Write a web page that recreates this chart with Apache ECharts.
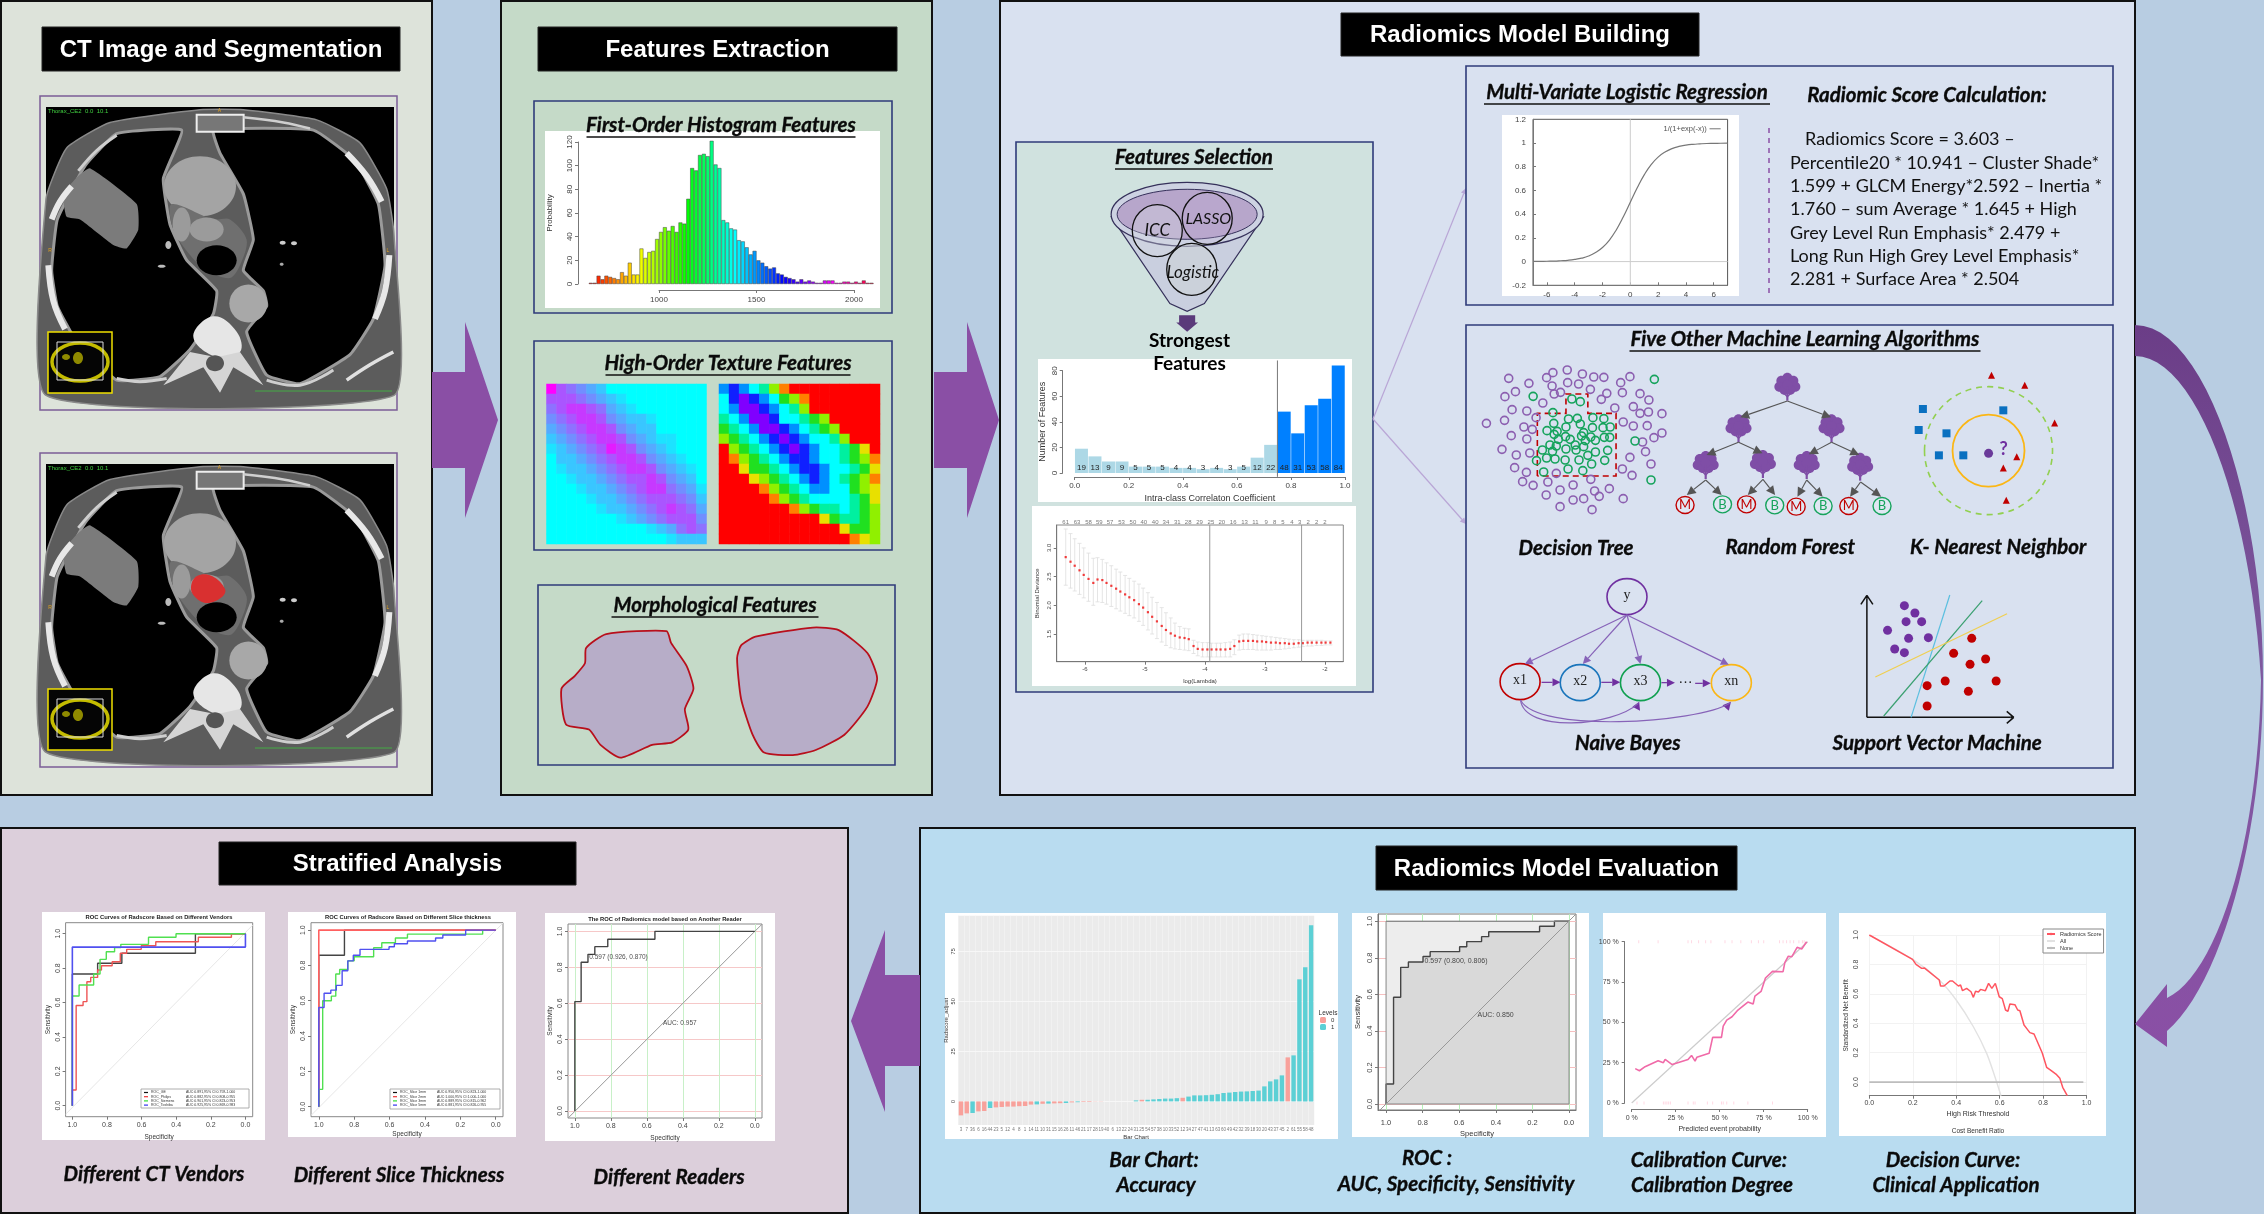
<!DOCTYPE html>
<html>
<head>
<meta charset="utf-8">
<style>html,body{margin:0;padding:0;background:#b8cde2}#main{width:2264px;height:1214px}</style>
<script src="https://cdn.jsdelivr.net/npm/echarts@6/dist/echarts.min.js"></script>
</head>
<body>
<div id="main"></div>
<script>
// ---- data ----
var histStart = 640, histStep = 20;
var histCounts = [1,1,7,4,7,6,5,4,10,7,18,8,8,30,22,27,28,38,44,48,45,49,44,52,51,72,98,96,109,110,108,121,101,98,54,52,47,46,37,36,31,25,28,20,18,15,13,14,9,8,6,5,4,2,4,2,3,2,1,1,3,3,3,1,1,2,2,1,2,1,3,1,1];

var heatCool = [
 [9,6,5,4,3,2,0,0,0,0,0,0,0,0,0,0],
 [6,6,6,5,4,3,2,1,0,0,0,0,0,0,0,0],
 [5,6,7,7,6,5,3,2,1,0,0,0,0,0,0,0],
 [4,5,6,7,7,6,4,3,2,2,1,0,0,0,0,0],
 [3,4,5,6,7,7,6,4,3,2,2,0,0,0,0,0],
 [2,3,4,5,6,7,7,6,4,3,2,1,1,0,0,0],
 [1,2,3,4,5,6,8,7,6,4,3,2,1,0,0,0],
 [0,2,2,3,4,5,6,7,7,6,4,3,2,1,0,0],
 [0,1,2,2,3,4,5,6,7,7,6,4,3,2,1,0],
 [0,0,1,2,2,3,4,5,6,6,7,6,4,3,2,0],
 [0,0,0,1,2,2,3,4,5,6,7,7,5,4,3,1],
 [0,0,0,0,1,2,2,3,4,5,6,6,6,5,4,2],
 [0,0,0,0,0,1,2,2,3,4,5,6,7,6,5,3],
 [0,0,0,0,0,0,0,1,2,3,4,5,6,6,6,4],
 [0,0,0,0,0,0,0,0,0,0,1,2,3,5,6,5],
 [0,0,0,0,0,0,0,0,0,0,0,0,1,2,2,2]
];
var heatJet = [
 [7,8,7,6,5,3,1,0,0,0,0,0,0,0,0,0],
 [6,8,9,8,7,6,4,3,1,0,0,0,0,0,0,0],
 [6,7,9,9,8,7,6,5,3,0,0,0,0,0,0,0],
 [5,6,7,9,9,8,6,6,5,4,3,0,0,0,0,0],
 [4,5,6,7,9,9,8,7,6,5,4,3,0,0,0,0],
 [3,4,5,6,7,8,9,8,7,6,6,5,3,0,0,0],
 [0,3,4,5,6,7,8,9,8,7,6,6,5,4,2,0],
 [0,1,3,4,5,6,7,8,8,7,6,6,5,4,3,1],
 [0,0,2,4,4,5,6,7,8,8,7,6,6,5,4,2],
 [0,0,0,2,3,4,5,6,7,8,7,6,5,4,3,1],
 [0,0,0,0,1,3,4,5,6,7,7,6,6,4,3,2],
 [0,0,0,0,0,1,3,4,5,6,6,6,6,5,4,2],
 [0,0,0,0,0,0,0,1,3,4,5,5,6,5,4,3],
 [0,0,0,0,0,0,0,0,0,0,2,4,5,5,4,3],
 [0,0,0,0,0,0,0,0,0,0,0,0,2,4,4,3],
 [0,0,0,0,0,0,0,0,0,0,0,0,0,1,2,3]
];

var iccBins = [0.025,0.075,0.125,0.175,0.225,0.275,0.325,0.375,0.425,0.475,0.525,0.575,0.625,0.675,0.725,0.775,0.825,0.875,0.925,0.975];
var iccCounts = [19,13,9,9,5,5,5,4,4,3,4,3,5,12,22,48,31,53,58,84];

var lassoX = [-6.32,-6.24,-6.17,-6.09,-6.02,-5.94,-5.86,-5.79,-5.71,-5.64,-5.56,-5.48,-5.41,-5.33,-5.26,-5.18,-5.10,-5.03,-4.95,-4.88,-4.80,-4.72,-4.65,-4.57,-4.50,-4.42,-4.34,-4.27,-4.19,-4.12,-4.04,-3.96,-3.89,-3.81,-3.74,-3.66,-3.58,-3.51,-3.43,-3.36,-3.28,-3.20,-3.13,-3.05,-2.98,-2.90,-2.82,-2.75,-2.67,-2.60,-2.52,-2.44,-2.37,-2.29,-2.22,-2.14,-2.06,-1.99,-1.91];
var lassoMean = [2.84,2.76,2.69,2.61,2.53,2.46,2.39,2.45,2.44,2.39,2.34,2.29,2.24,2.19,2.14,2.09,2.02,1.96,1.88,1.80,1.72,1.64,1.57,1.51,1.47,1.44,1.43,1.41,1.29,1.24,1.23,1.23,1.23,1.23,1.23,1.23,1.24,1.29,1.37,1.38,1.38,1.38,1.37,1.37,1.36,1.35,1.35,1.34,1.34,1.33,1.33,1.34,1.34,1.35,1.35,1.35,1.35,1.35,1.35];
var lassoHi = [3.33,3.25,3.16,3.08,3.00,2.91,2.82,2.83,2.80,2.74,2.69,2.63,2.58,2.52,2.47,2.42,2.37,2.30,2.22,2.14,2.05,1.96,1.87,1.78,1.69,1.63,1.60,1.59,1.39,1.36,1.35,1.35,1.34,1.34,1.34,1.35,1.36,1.40,1.48,1.50,1.50,1.49,1.48,1.47,1.46,1.45,1.44,1.43,1.42,1.41,1.40,1.40,1.39,1.39,1.39,1.39,1.39,1.38,1.38];
var lassoLo = [2.35,2.30,2.25,2.19,2.13,2.07,2.00,2.06,2.05,2.02,1.98,1.94,1.90,1.86,1.82,1.78,1.72,1.65,1.57,1.50,1.42,1.36,1.30,1.26,1.24,1.23,1.22,1.21,1.16,1.12,1.10,1.10,1.10,1.10,1.10,1.10,1.10,1.14,1.22,1.23,1.23,1.23,1.22,1.22,1.22,1.22,1.23,1.23,1.24,1.25,1.26,1.27,1.28,1.29,1.29,1.30,1.30,1.31,1.31];
var lassoTopX = [-6.32,-6.13,-5.94,-5.76,-5.58,-5.39,-5.20,-5.02,-4.83,-4.65,-4.46,-4.28,-4.09,-3.90,-3.72,-3.53,-3.34,-3.16,-2.98,-2.84,-2.70,-2.55,-2.42,-2.28,-2.14,-2.00];
var lassoTopN = [61,63,58,59,57,53,50,40,40,34,31,28,29,25,20,16,13,11,9,8,5,4,3,2,2,2];

var logisticX = [-7,-6.5,-6,-5.5,-5,-4.5,-4,-3.5,-3,-2.5,-2,-1.5,-1,-0.5,0,0.5,1,1.5,2,2.5,3,3.5,4,4.5,5,5.5,6,6.5,7];
var logisticY = [0.001,0.002,0.003,0.004,0.007,0.011,0.018,0.029,0.047,0.076,0.119,0.182,0.269,0.378,0.5,0.622,0.731,0.818,0.881,0.924,0.953,0.971,0.982,0.989,0.993,0.996,0.997,0.998,0.999];

var barIds = ['3','7','36','6','16','44','23','5','12','4','8','1','14','11','10','31','15','16','26','11','46','21','17','28','19','40','6','13','22','24','31','25','54','57','38','10','33','52','12','34','27','47','41','13','63','60','49','42','32','39','18','30','20','43','37','45','2','61','55','58','48'];
var barValues = [-7,-6,-5.8,-5,-4.8,-3.3,-3,-2.8,-2.6,-2.6,-2.4,-2.3,-1.6,-1.5,-1.2,-1.1,-1,-0.9,-0.8,-0.5,-0.4,-0.3,-0.3,-0.1,-0.1,0,0,0,0,0,0.5,0.8,0.8,1,1.2,1.4,1.4,1.6,1.8,2.4,3,3,3.1,3.3,3.6,4.2,4.4,4.7,4.9,5,5.2,5.4,7.5,10,11,13,22,23,61,67,88];
var barLevels = [0,0,1,0,0,1,0,0,0,0,0,0,0,1,0,1,0,0,1,0,1,0,0,0,0,0,0,0,0,0,1,0,1,1,1,1,1,1,0,1,1,1,1,1,1,1,1,1,1,1,1,1,1,1,1,1,0,1,1,1,1];

var rocSpec = [1,1,0.959,0.959,0.92,0.92,0.878,0.878,0.798,0.798,0.759,0.759,0.598,0.598,0.559,0.559,0.478,0.478,0.439,0.439,0.161,0.161,0.08,0.08,0];
var rocSens = [0,0.109,0.109,0.584,0.584,0.748,0.748,0.777,0.777,0.807,0.807,0.834,0.834,0.861,0.861,0.889,0.889,0.916,0.916,0.943,0.943,0.973,0.973,1,1];

var calibX = [2,4.4,7.6,15,18,19,23,32,34,36,37,44,46,51,52,54,57,60,66,69,70,73.5,76,80,86,87,89,91,94,96.6,99.4];
var calibY = [21.3,20,22.5,26.2,25,27,23.8,27,29.5,26,28.3,30.8,40.7,40.7,47.7,51.4,53.5,57.2,62.6,61.4,66.3,69.2,77.5,81.6,81.4,87,91,90.7,96.5,95.5,100];
var rugTop = [4,15,32,34,38,42,45,53,57,62,68,72,75,84,86,88,90,92,95,97,98];
var rugBottom = [3,7,18,19,20,21,22,32,35,36,43,46,51,52,54,58,66,80];

var dcaX = [0,0.199,0.215,0.241,0.253,0.322,0.328,0.344,0.371,0.383,0.41,0.42,0.429,0.448,0.468,0.479,0.489,0.502,0.512,0.534,0.549,0.564,0.58,0.598,0.612,0.627,0.638,0.647,0.67,0.683,0.693,0.712,0.724,0.739,0.758,0.796,0.816,0.831,0.862,0.877,0.89,0.911];
var dcaY = [1,0.834,0.8,0.773,0.776,0.694,0.653,0.653,0.687,0.687,0.653,0.66,0.621,0.637,0.614,0.576,0.617,0.612,0.63,0.621,0.671,0.637,0.671,0.58,0.567,0.49,0.481,0.531,0.526,0.49,0.485,0.388,0.365,0.336,0.327,0.197,0.1,0.084,0.05,0.025,-0.036,-0.093];
var dcaAll = [[0,1],[0.2,0.834],[0.322,0.694],[0.4,0.558],[0.479,0.376],[0.54,0.195],[0.578,0.036],[0.606,-0.093]];

var vendorGE = [[1,0],[1,0.766],[0.854,0.766],[0.854,0.828],[0.714,0.828],[0.714,0.886],[0.289,0.886],[0.289,1],[0,1]];
var vendorPhilips = [[1,0],[1,0.091],[0.978,0.091],[0.978,0.583],[0.938,0.583],[0.938,0.605],[0.916,0.605],[0.916,0.721],[0.894,0.721],[0.894,0.746],[0.854,0.746],[0.854,0.789],[0.832,0.789],[0.832,0.814],[0.77,0.814],[0.77,0.837],[0.723,0.837],[0.723,0.886],[0.686,0.886],[0.686,0.909],[0.602,0.909],[0.602,0.93],[0.518,0.93],[0.518,0.953],[0.272,0.953],[0.272,0.979],[0.081,0.979],[0.081,1],[0,1]];
var vendorSiemens = [[1,0],[1,0.638],[0.961,0.638],[0.961,0.702],[0.877,0.702],[0.877,0.766],[0.84,0.766],[0.84,0.851],[0.804,0.851],[0.804,0.895],[0.756,0.895],[0.756,0.919],[0.72,0.919],[0.72,0.938],[0.56,0.938],[0.56,0.979],[0.401,0.979],[0.401,1],[0,1]];
var vendorToshiba = [[1,0],[1,0.922],[0,0.922],[0,1]];

var slice1 = [[1,0],[1,0.858],[0.855,0.858],[0.855,1],[0,1]];
var slice2 = [[1,0],[1,1],[0,1]];
var slice3 = [[1,0],[1,0.098],[0.978,0.098],[0.978,0.6],[0.929,0.6],[0.929,0.626],[0.904,0.626],[0.904,0.751],[0.882,0.751],[0.882,0.777],[0.836,0.777],[0.836,0.826],[0.8,0.826],[0.8,0.849],[0.69,0.849],[0.69,0.9],[0.644,0.9],[0.644,0.928],[0.567,0.928],[0.567,0.955],[0.499,0.955],[0.499,0.977],[0.074,0.977],[0.074,1]];
var slice5 = [[1,0],[1,0.562],[0.97,0.562],[0.97,0.642],[0.932,0.642],[0.932,0.66],[0.901,0.66],[0.901,0.687],[0.868,0.687],[0.868,0.77],[0.836,0.77],[0.836,0.826],[0.805,0.826],[0.805,0.858],[0.767,0.858],[0.767,0.891],[0.603,0.891],[0.603,0.906],[0.573,0.906],[0.573,0.923],[0.499,0.923],[0.499,0.938],[0.34,0.938],[0.34,0.955],[0.299,0.955],[0.299,0.972],[0.17,0.972],[0.17,1],[0,1]];
var readerRoc = [[1,0],[1,0.609],[0.965,0.609],[0.965,0.828],[0.927,0.828],[0.927,0.872],[0.889,0.872],[0.889,0.915],[0.817,0.915],[0.817,0.956],[0.555,0.956],[0.555,1],[0,1]];

// schematic point clouds, in the units of the schematic grid
var treePurple = [[92,175],[140,190],[182,173],[197,158],[231,150],[267,162],[294,171],[318,172],[380,170],[358,188],[195,198],[232,188],[258,192],[286,208],[108,215],[83,230],[200,222],[215,217],[325,220],[362,218],[404,221],[425,240],[173,249],[312,238],[100,269],[135,273],[344,264],[388,260],[404,280],[424,276],[456,281],[157,293],[82,301],[39,310],[128,321],[148,328],[364,306],[388,318],[421,317],[98,347],[135,357],[437,353],[456,339],[410,366],[76,388],[142,399],[110,405],[417,395],[380,412],[106,443],[134,457],[430,432],[362,447],[385,466],[205,460],[125,485],[150,496],[185,486],[245,495],[287,478],[214,510],[296,513],[331,506],[181,525],[307,529],[245,540],[270,536],[364,536],[214,560],[290,569]];
var treeGreen = [[438,178],[150,229],[242,237],[262,245],[197,278],[292,293],[318,296],[234,297],[255,295],[199,310],[183,332],[262,312],[228,321],[207,334],[291,323],[316,323],[333,321],[270,338],[200,343],[210,358],[227,350],[238,358],[265,348],[287,351],[319,352],[332,352],[298,361],[274,362],[392,363],[250,375],[190,375],[205,378],[172,390],[196,394],[228,387],[270,380],[252,390],[298,396],[327,391],[280,406],[158,422],[182,414],[202,417],[226,420],[259,420],[320,421],[289,432],[233,447],[268,452],[175,456],[430,480]];
var knnSquares = [[1076,267],[1267,271],[1066,330],[1132,340],[1114,406],[1172,406]];
var knnTriangles = [[1239,166],[1318,196],[1389,309],[1299,410],[1267,444],[1274,541]];
var knnQuery = [[1232,400]];
var svmPurple = [[1032,857],[1057,879],[1036,905],[1073,905],[992,931],[1042,955],[1089,953],[1009,987],[1032,998]];
var svmRed = [[1192,955],[1149,1000],[1225,1017],[1188,1033],[1129,1083],[1086,1097],[1250,1083],[1184,1114],[1086,1158]];

// ---- option pieces ----
var grids = [], xAxes = [], yAxes = [], series = [], visualMaps = [], G = [];
var SANS = 'Liberation Sans', CAP = 'Lato', CAPSIZE = 20.5;

function addGrid(r, xa, ya, box) {
    var i = grids.length;
    grids.push({ left: r[0], top: r[1], width: r[2], height: r[3], show: !!box, borderColor: box || '#888', borderWidth: 1, backgroundColor: 'transparent' });
    var base = {
        type: 'value', gridIndex: i, nameLocation: 'middle',
        axisLine: { onZero: false, lineStyle: { color: '#777', width: 1 } },
        axisTick: { length: 3, lineStyle: { color: '#777' } },
        axisLabel: { fontSize: 8, color: '#444', fontFamily: SANS, margin: 4, hideOverlap: false, showMinLabel: true, showMaxLabel: true },
        splitLine: { show: false },
        nameTextStyle: { fontSize: 8, color: '#333', fontFamily: SANS }
    };
    xAxes.push(echarts.util.merge(echarts.util.clone(base), xa || {}, true));
    yAxes.push(echarts.util.merge(echarts.util.clone(base), ya || {}, true));
    return i;
}
function fmt1(v) { return v.toFixed(1); }
function plain(v) { return String(v); }
function ticks(vals, extra) {
    var o = { axisTick: { customValues: vals }, axisLabel: { customValues: vals } };
    return echarts.util.merge(o, extra || {}, true);
}
function line(i, name, data, color, width, extra) {
    var s = { type: 'line', name: name, xAxisIndex: i, yAxisIndex: i, data: data, symbol: 'none', animation: false, silent: true, lineStyle: { color: color, width: width }, itemStyle: { color: color } };
    series.push(echarts.util.merge(s, extra || {}, true));
}
function note(i, x, y, text, align, size) {
    series.push({
        type: 'scatter', z: 10, xAxisIndex: i, yAxisIndex: i, data: [[x, y]], symbolSize: 1, itemStyle: { color: 'rgba(0,0,0,0)' }, animation: false, silent: true, clip: false,
        label: { show: true, position: 'inside', align: align || 'left', formatter: text, fontSize: size || 7, color: '#222', fontFamily: SANS }
    });
}
function rect(x, y, w, h, fill, stroke, lw, z) {
    G.push({ type: 'rect', silent: true, z: z === undefined ? -10 : z, shape: { x: x, y: y, width: w, height: h }, style: { fill: fill, stroke: stroke || 'transparent', lineWidth: lw || 0 } });
}
function poly(pts, fill, stroke, lw, smooth, z) {
    G.push({ type: 'polygon', silent: true, z: z === undefined ? -10 : z, shape: { points: pts, smooth: smooth || 0 }, style: { fill: fill, stroke: stroke || 'transparent', lineWidth: lw || 0 } });
}
function ell(cx, cy, rx, ry, fill, stroke, lw, dash, z) {
    G.push({ type: 'ellipse', silent: true, z: z === undefined ? -10 : z, shape: { cx: cx, cy: cy, rx: rx, ry: ry }, style: { fill: fill, stroke: stroke || 'transparent', lineWidth: lw || 0, lineDash: dash || null } });
}
function seg(x1, y1, x2, y2, color, lw, dash, z) {
    G.push({ type: 'line', silent: true, z: z === undefined ? -10 : z, shape: { x1: x1, y1: y1, x2: x2, y2: y2 }, style: { stroke: color, lineWidth: lw || 1, lineDash: dash || null } });
}
function txt(s, x, y, font, fill, align, z, stroke) {
    G.push({ type: 'text', silent: true, z: z === undefined ? 50 : z, x: x, y: y, style: { text: s, x: 0, y: 0, font: font, fill: fill || '#000', textAlign: align || 'center', textVerticalAlign: 'middle', align: align || 'center', verticalAlign: 'middle', stroke: stroke || null, lineWidth: stroke ? 0.35 : 0 } });
}
function capText(s, x, y) { txt(s, x, y, 'italic bold ' + CAPSIZE + 'px ' + CAP, '#0a0a0a', 'center', 50, '#0a0a0a'); }
function heading(s, cx, cy, w) {
    capText(s, cx, cy);
    seg(cx - w / 2, cy + 12, cx + w / 2, cy + 12, '#111', 1.4, null, 50);
}
function titleBar(s, x, y, w, h) {
    rect(x, y, w, h, '#000', '#222', 1, -9);
    txt(s, x + w / 2, y + h / 2 + 1, 'bold 24px ' + SANS, '#fff');
}
function arrow(x1, y1, x2, y2, color, lw, head, z) {
    var a = Math.atan2(y2 - y1, x2 - x1), hx = x2 - head * Math.cos(a), hy = y2 - head * Math.sin(a), n = head * 0.5;
    seg(x1, y1, hx, hy, color, lw, null, z);
    poly([[x2, y2], [hx - n * Math.sin(a), hy + n * Math.cos(a)], [hx + n * Math.sin(a), hy - n * Math.cos(a)]], color, null, 0, 0, z);
}
function cub(p0, p1, p2, p3, n) {
    var out = [];
    for (var i = 0; i <= n; i++) {
        var t = i / n, u = 1 - t;
        out.push([u*u*u*p0[0] + 3*u*u*t*p1[0] + 3*u*t*t*p2[0] + t*t*t*p3[0], u*u*u*p0[1] + 3*u*u*t*p1[1] + 3*u*t*t*p2[1] + t*t*t*p3[1]]);
    }
    return out;
}
// the crops the shapes were measured on
function c1(p) { return p.map(function (q) { return [500 + q[0] / 1.742, q[1] / 1.96]; }); }
function c6x(x) { return 1470 + x / 2.376; }
function c6y(y) { return 320 + y / 3; }

// ---- panels and arrows ----
rect(0, 0, 2264, 1214, '#b8cde2');
rect(1, 1, 431, 794, '#dde3da', '#111', 2);
rect(501, 1, 431, 794, '#c5dac8', '#111', 2);
rect(1000, 1, 1135, 794, '#d9e1f0', '#111', 2);
rect(1, 828, 847, 385, '#dccfdb', '#111', 2);
rect(920, 828, 1215, 385, '#b9dcf0', '#111', 2);

var PURPLE = '#8a4fa5';
poly([[432, 372], [465, 372], [465, 322], [498, 420], [465, 518], [465, 468], [432, 468]], PURPLE);
poly([[934, 372], [967, 372], [967, 322], [999, 420], [967, 518], [967, 468], [934, 468]], PURPLE);
poly([[920, 975], [885, 975], [885, 930], [851, 1021], [885, 1112], [885, 1066], [920, 1066]], PURPLE);

var outer = cub([2135, 325], [2205, 325], [2263, 500], [2263, 678], 24).concat(cub([2263, 678], [2263, 840], [2220, 985], [2167, 1031], 24));
var inner = cub([2167, 998], [2215, 975], [2258, 850], [2261, 680], 24).concat(cub([2261, 680], [2250, 500], [2195, 356], [2135, 356], 24));
poly(outer.concat([[2167, 1047], [2135, 1024], [2167, 984]], inner), new echarts.graphic.LinearGradient(0, 0, 0, 1, [{ offset: 0, color: '#6b3d87' }, { offset: 0.5, color: '#7f5aa0' }, { offset: 1, color: PURPLE }]));

titleBar('CT Image and Segmentation', 42, 27, 358, 44);
titleBar('Features Extraction', 538, 27, 359, 44);
titleBar('Radiomics Model Building', 1341, 13, 358, 43);
titleBar('Stratified Analysis', 219, 842, 357, 43);
titleBar('Radiomics Model Evaluation', 1376, 846, 361, 44);

// ---- CT slices (plain shapes) ----
function ctSlice(dy, marked) {
    function p(list) { return list.map(function (q) { return [q[0] / 3, q[1] / 1.96 + dy]; }); }
    function rib(list, w, c) { G.push({ type: 'polyline', silent: true, z: -10, shape: { points: p(list), smooth: 0.4 }, style: { stroke: c || '#e8e8e8', lineWidth: w, fill: null } }); }
    rect(40, 96 + dy, 357, 314, '#dde3da', '#7b5e96', 1.5);
    rect(46, 107 + dy, 348, 288, '#000');
    poly(p([[138,775],[138,390],[200,290],[330,240],[600,215],[730,215],[950,235],[1080,280],[1160,370],[1182,460],[1182,775]]), '#5c5c5c', '#8a8a8a', 1.5, 0.15);
    // lungs
    poly(p([[545,255],[350,262],[255,325],[172,430],[155,530],[172,600],[230,670],[350,745],[480,738],[570,685],[640,615],[650,570],[560,510],[510,440],[490,350]]), '#000', '#9a9a9a', 3, 0.12);
    poly(p([[640,255],[940,255],[1065,315],[1135,400],[1155,520],[1120,625],[1050,695],[900,752],[800,735],[740,650],[800,600],[790,570],[730,530],[760,470],[730,380],[660,300]]), '#000', '#9a9a9a', 3, 0.12);
    // tumour, heart and vessels
    poly(p([[270,330],[410,400],[415,450],[380,487],[340,480],[240,430],[200,425],[190,380],[235,345]]), '#7b7b7b', null, 0, 0.15);
    ell(600 / 3, 365 / 1.96 + dy, 36, 30, '#a4a4a4');
    poly(p([[515,400],[640,430],[690,430],[740,470],[720,520],[690,545],[620,530],[570,500],[520,450]]), '#6f6f6f', null, 0, 0.3);
    ell(620 / 3, 450 / 1.96 + dy, 17, 12, '#9b9b9b');
    ell(545 / 3, 440 / 1.96 + dy, 9, 17, '#9b9b9b');
    ell(650 / 3, 510 / 1.96 + dy, 20, 15, '#000');
    ell(745 / 3, 595 / 1.96 + dy, 19, 19, '#a8a8a8');
    // spine, sternum and ribs
    poly(p([[580,660],[640,620],[710,650],[720,690],[650,700]]), '#e6e6e6', null, 0, 0.4);
    poly(p([[490,755],[570,690],[650,700],[720,690],[790,755],[700,720],[660,770],[610,720]]), '#d5d5d5');
    ell(645 / 3, 712 / 1.96 + dy, 9, 8, '#555');
    rect(590 / 3, 225 / 1.96 + dy, 47, 17, '#777', '#eee', 2);
    rib([[145,520],[160,590],[195,645]], 6);
    rib([[155,430],[180,395],[215,365]], 6);
    rib([[1168,500],[1155,570],[1125,625]], 6);
    rib([[1040,300],[1100,345],[1145,395]], 6);
    rib([[235,335],[290,295],[350,265]], 3, '#cfcfcf');
    rib([[730,230],[850,240],[930,252]], 2.5, '#cfcfcf');
    rib([[350,742],[420,748],[500,742]], 3, '#cfcfcf');
    rib([[800,745],[900,755],[1000,725]], 3, '#cfcfcf');
    rib([[1040,745],[1110,715],[1180,690]], 3.5, '#e0e0e0');
    ell(848 / 3, 476 / 1.96 + dy, 3, 2, '#ccc'); ell(882 / 3, 477 / 1.96 + dy, 3, 2, '#ccc'); ell(505 / 3, 480 / 1.96 + dy, 3, 4, '#bbb');
    ell(845 / 3, 518 / 1.96 + dy, 2, 1.5, '#aaa'); ell(485 / 3, 522 / 1.96 + dy, 4, 1.5, '#bbb');
    if (marked) poly([[191, 587], [197, 576], [212, 576], [225, 589], [222, 597], [207, 603], [195, 597]], '#d93030', null, 0, 0.4);
    // scout inset
    rect(48, 332 + dy, 64, 61, '#050505', '#f0e000', 1.5);
    ell(80, 362 + dy, 28, 19, 'rgba(0,0,0,0)', '#c4bc00', 3.5);
    ell(78, 358 + dy, 5, 6, '#8f8a00');
    ell(66, 357 + dy, 4, 3, '#8f8a00');
    rect(57, 342 + dy, 46, 38, 'rgba(0,0,0,0)', '#ddd', 1);
    txt('Thorax_CE2  0.0  10.1', 48, 111 + dy, '6px ' + SANS, '#40d040', 'left', -5);
    txt('A', 219.5, 111 + dy, '5px ' + SANS, '#e0a020', 'center', -5);
    txt('R', 50, 251 + dy, '5px ' + SANS, '#e0a020', 'center', -5);
    txt('L', 388, 251 + dy, '5px ' + SANS, '#e0a020', 'center', -5);
    seg(255, 391 + dy, 392, 391 + dy, '#40c040', 0.8);
}
ctSlice(0, false);
ctSlice(357, true);

// ---- features extraction ----
rect(534, 101, 358, 212, '#c5dac8', '#2f3b7a', 1.6);
rect(545, 131, 335, 177, '#fff');
heading('First-Order Histogram Features', 721, 125, 269);

function rainbow(i, n) {
    var h = i / n * 5.9, f = h - Math.floor(h), q = 1 - f, c = [[1, f, 0], [q, 1, 0], [0, 1, f], [0, q, 1], [f, 0, 1], [1, 0, q]][Math.floor(h) % 6];
    return 'rgb(' + c.map(function (v) { return Math.round(v * 255); }).join(',') + ')';
}
var gHist = addGrid([659, 142, 195, 142],
    { min: 1000, max: 2000, interval: 500, offset: 6, axisLabel: { margin: 6, formatter: plain } },
    { min: 0, max: 120, interval: 20, offset: 81, name: 'Probability', nameGap: 24, axisLabel: { rotate: 90 } });
series.push({
    type: 'bar', xAxisIndex: gHist, yAxisIndex: gHist, clip: false, barWidth: 3.9, animation: false, silent: true,
    data: histCounts.map(function (v, i) { return { value: [histStart + histStep * i + histStep / 2, v], itemStyle: { color: rainbow(i, histCounts.length) } }; }),
    itemStyle: { borderColor: '#444', borderWidth: 0.5 }
});

rect(534, 341, 358, 209, '#c5dac8', '#2f3b7a', 1.6);
heading('High-Order Texture Features', 728, 363, 245);
function heatSeries(r, rows, colors) {
    var idx16 = rows[0].map(function (v, i) { return i; });
    var rowIdx = rows.map(function (v, i) { return i; });
    var g = addGrid(r, { type: 'category', data: idx16, show: false }, { type: 'category', data: rowIdx, inverse: true, show: false });
    var data = [];
    rows.forEach(function (row, y) { row.forEach(function (v, x) { data.push([x, y, v]); }); });
    visualMaps.push({ show: false, min: 0, max: 9, seriesIndex: series.length, inRange: { color: colors } });
    series.push({ type: 'heatmap', xAxisIndex: g, yAxisIndex: g, data: data, animation: false, silent: true, progressive: 0 });
}
heatSeries([546.5, 384, 160, 160], heatCool, ['#00ffff', '#ff00ff']);
heatSeries([719, 384, 161, 160], heatJet, ['#ff0000', '#ff8000', '#e8e000', '#90f000', '#20e020', '#00f0a0', '#00ffff', '#0090ff', '#1020ff', '#8000ff']);

rect(538, 585, 357, 180, '#c5dac8', '#2f3b7a', 1.6);
heading('Morphological Features', 715, 605, 207);
poly(c1([[185,1243],[290,1237],[298,1260],[325,1305],[337,1350],[322,1390],[328,1430],[300,1455],[265,1460],[210,1485],[175,1460],[155,1430],[115,1420],[107,1350],[130,1325],[148,1300],[150,1270]]), '#b7adc8', '#b80f1c', 1.8, 0.2);
poly(c1([[445,1248],[545,1230],[590,1235],[640,1280],[657,1330],[640,1385],[600,1440],[550,1470],[510,1480],[460,1475],[440,1440],[420,1370],[413,1290],[420,1265]]), '#b7adc8', '#b80f1c', 1.8, 0.2);

// ---- features selection ----
rect(1016, 142, 357, 550, '#d0e2df', '#2f3b7a', 1.6);
heading('Features Selection', 1194, 157, 158);
poly(c1([[1065,425],[1167,595],[1197,610],[1227,595],[1330,425]]), '#c9cfdf', '#35305a', 1.2);
ell(500 + 1197 / 1.742, 420 / 1.96, 76, 32, '#cdd2e2', '#35305a', 1.2);
ell(500 + 1197 / 1.742, 420 / 1.96, 70, 25, '#b7a6cb', '#35305a', 1);
ell(500 + 1145 / 1.742, 452 / 1.96, 25, 26, 'rgba(215,218,225,0.35)', '#111', 1.3);
ell(500 + 1232 / 1.742, 428 / 1.96, 25, 26, 'rgba(190,170,210,0.25)', '#111', 1.3);
ell(500 + 1205 / 1.742, 528 / 1.96, 25, 26, 'rgba(205,210,215,0.6)', '#111', 1.3);
txt('ICC', 500 + 1145 / 1.742, 452 / 1.96, 'italic 17px ' + CAP, '#111');
txt('LASSO', 500 + 1234 / 1.742, 429 / 1.96, 'italic 16px ' + CAP, '#111');
txt('Logistic', 500 + 1207 / 1.742, 534 / 1.96, 'italic 17px ' + CAP, '#111');
poly(c1([[1183,618],[1211,618],[1211,632],[1216,632],[1197,650],[1178,632],[1183,632]]), '#5a3a7a');
txt('Strongest', 1189.5, 341, 'bold 19px ' + CAP, '#000');
txt('Features', 1189.5, 364, 'bold 19px ' + CAP, '#000');

rect(1038, 359, 314, 143, '#fff');
var gIcc = addGrid([1074.7, 370.7, 270.3, 102.3],
    { min: 0, max: 1, interval: 0.2, offset: 4, name: 'Intra-class Correlaton Coefficient', nameGap: 17, axisLabel: { formatter: fmt1, margin: 5 }, nameTextStyle: { fontSize: 9 } },
    { min: 0, max: 80, interval: 20, offset: 12, name: 'Number of Features', nameGap: 16, axisLabel: { rotate: 90 }, nameTextStyle: { fontSize: 9 } });
series.push({
    type: 'bar', xAxisIndex: gIcc, yAxisIndex: gIcc, clip: false, barWidth: 13, animation: false, silent: true,
    data: iccBins.map(function (b, i) { return { value: [b, iccCounts[i]], itemStyle: { color: b > 0.75 ? '#0080ff' : '#add8e6' } }; }),
    label: { show: true, position: 'insideBottom', distance: 1, fontSize: 8, color: '#222', fontFamily: SANS, formatter: function (p) { return p.value[1]; } }
});
line(gIcc, 'cut', [[0.75, -3], [0.75, 88]], '#777', 1, { clip: false });

rect(1032, 506, 324, 180, '#fff');
var gLasso = addGrid([1056.7, 525, 286.6, 136.7],
    ticks([-6, -5, -4, -3, -2], { min: -6.47, max: -1.695, name: 'log(Lambda)', nameGap: 17, axisLabel: { margin: 5, fontSize: 6 }, nameTextStyle: { fontSize: 6 } }),
    ticks([1.5, 2, 2.5, 3], { min: 1.017, max: 3.4, name: 'Binomial Deviance', nameGap: 16, axisLabel: { rotate: 90, fontSize: 6, formatter: fmt1 }, nameTextStyle: { fontSize: 6 } }), '#888');
series.push({
    type: 'custom', xAxisIndex: gLasso, yAxisIndex: gLasso, animation: false, silent: true,
    data: lassoX.map(function (x, i) { return [x, lassoLo[i], lassoHi[i]]; }),
    encode: { x: 0, y: [1, 2] },
    renderItem: function (params, api) {
        var a = api.coord([api.value(0), api.value(1)]), b = api.coord([api.value(0), api.value(2)]);
        var st = { stroke: '#dedede', lineWidth: 0.8, fill: null };
        return { type: 'group', children: [
            { type: 'line', shape: { x1: a[0], y1: a[1], x2: b[0], y2: b[1] }, style: st },
            { type: 'line', shape: { x1: a[0] - 2, y1: a[1], x2: a[0] + 2, y2: a[1] }, style: st },
            { type: 'line', shape: { x1: b[0] - 2, y1: b[1], x2: b[0] + 2, y2: b[1] }, style: st }
        ] };
    }
});
series.push({ type: 'scatter', xAxisIndex: gLasso, yAxisIndex: gLasso, data: lassoX.map(function (x, i) { return [x, lassoMean[i]]; }), symbol: 'rect', symbolSize: 2.2, itemStyle: { color: '#f01010' }, animation: false, silent: true });
line(gLasso, 'min', [[-3.92, 1.017], [-3.92, 3.4]], '#999', 1);
line(gLasso, '1se', [[-2.39, 1.017], [-2.39, 3.4]], '#999', 1);
series.push({
    type: 'scatter', xAxisIndex: gLasso, yAxisIndex: gLasso, clip: false, symbolSize: 0, animation: false, silent: true,
    data: lassoTopX.map(function (x, i) { return [x, 3.455, lassoTopN[i]]; }),
    label: { show: true, position: 'inside', fontSize: 6, color: '#555', fontFamily: SANS, formatter: function (p) { return p.value[2]; } }
});

// ---- thin connectors ----
arrow(1373, 419, 1466, 188, '#b9a6d6', 1.2, 6);
arrow(1373, 419, 1466, 524, '#b9a6d6', 1.2, 6);

// ---- logistic regression box ----
rect(1466, 66, 647, 239, '#d9e1f0', '#2f3b7a', 1.6);
heading('Multi-Variate Logistic Regression', 1627, 92, 286);
capText('Radiomic Score Calculation:', 1927, 95);
rect(1502, 115, 237, 181, '#fff');
var gLog = addGrid([1533, 119.3, 194.6, 166],
    { min: -7, max: 7, axisTick: { inside: true, customValues: [-6, -4, -2, 0, 2, 4, 6] }, axisLabel: { customValues: [-6, -4, -2, 0, 2, 4, 6], margin: 5 } },
    { min: -0.2, max: 1.2, interval: 0.2, axisTick: { inside: true }, axisLabel: { margin: 7, formatter: function (v) { return Math.round(v * 10) / 10; } } }, '#555');
line(gLog, 'x0', [[0, -0.2], [0, 1.2]], '#ccc', 1);
line(gLog, 'y0', [[-7, 0], [7, 0]], '#ccc', 1);
line(gLog, '1/(1+exp(-x))', logisticX.map(function (x, i) { return [x, logisticY[i]]; }), '#777', 1.2, { smooth: true });
note(gLog, 5.5, 1.12, '1/(1+exp(-x))', 'right', 7.5);
line(gLog, 'key', [[5.7, 1.12], [6.5, 1.12]], '#777', 1);
seg(1769, 128, 1769, 295, '#8a4fa5', 1.5, [5, 5]);
var scoreLines = ['Radiomics Score = 3.603 \u2013', 'Percentile20 * 10.941 \u2013 Cluster Shade*', '1.599 + GLCM Energy*2.592 \u2013 Inertia *', '1.760 \u2013 sum Average * 1.645 + High', 'Grey Level Run Emphasis* 2.479 +', 'Long Run High Grey Level Emphasis*', '2.281 + Surface Area * 2.504'];
[139, 163, 186, 209, 233, 256, 279].forEach(function (y, i) {
    txt(scoreLines[i], i === 0 ? 1805 : 1790, y, '18px ' + CAP, '#111', 'left');
});

// ---- five other algorithms ----
rect(1466, 325, 647, 443, '#d9e1f0', '#2f3b7a', 1.6);
heading('Five Other Machine Learning Algorithms', 1805, 339, 351);
var gS = addGrid([1470, 320, 660, 450], { min: 0, max: 1568, show: false }, { min: 0, max: 1350, inverse: true, show: false });
function dots(data, symbol, size, fill, stroke, bw) {
    series.push({ type: 'scatter', xAxisIndex: gS, yAxisIndex: gS, data: data, symbol: symbol, symbolSize: size, animation: false, silent: true, itemStyle: { color: fill, borderColor: stroke || fill, borderWidth: bw || 0, opacity: 1 } });
}
dots(treePurple, 'circle', 8, 'rgba(0,0,0,0)', '#8c5fb0', 1.6);
dots(treeGreen, 'circle', 8, 'rgba(0,0,0,0)', '#16a35c', 1.6);
dots(knnSquares, 'rect', 8, '#0a70c0');
dots(knnTriangles, 'triangle', 7, '#c00000');
dots(knnQuery, 'circle', 9, '#6a3a9a');
dots(svmPurple, 'circle', 9, '#7030a0');
dots(svmRed, 'circle', 9, '#c00000');

G.push({ type: 'polyline', silent: true, z: -5, shape: { points: [[160,468],[160,280],[228,280],[228,222],[280,222],[280,280],[347,280],[347,468],[160,468]].map(function (q) { return [c6x(q[0]), c6y(q[1])]; }) }, style: { stroke: '#c00000', lineWidth: 1.6, lineDash: [6, 4], fill: null } });

function tree(X, Y) {
    var x = c6x(X), y = c6y(Y), c = '#7f4ea6';
    [[0, -9], [-6, -6], [6, -6], [-8, 0], [8, 0], [-3, 3], [3, 3], [0, -2]].forEach(function (o) { ell(x + o[0], y + o[1], 5, 5, c); });
    seg(x, y, x, y + 14, c, 2.2);
    seg(x - 5, y + 5, x, y + 10, c, 1.3);
    seg(x + 5, y + 5, x, y + 10, c, 1.3);
}
[[754,200],[638,325],[859,325],[560,435],[696,432],[800,435],[927,440]].forEach(function (t) { tree(t[0], t[1]); });
[[[754,243],[642,292]],[[754,243],[858,292]],[[638,367],[562,405]],[[638,367],[695,400]],[[859,367],[805,403]],[[859,367],[925,405]],[[560,480],[515,525]],[[560,480],[598,525]],[[696,478],[660,525]],[[696,478],[725,525]],[[800,480],[778,530]],[[800,480],[838,530]],[[928,486],[903,530]],[[928,486],[977,530]]].forEach(function (e) {
    arrow(c6x(e[0][0]), c6y(e[0][1]), c6x(e[1][0]), c6y(e[1][1]), '#555', 1.1, 9);
});
[[511,555,'M'],[600,553,'B'],[657,553,'M'],[724,556,'B'],[775,560,'M'],[839,558,'B'],[900,558,'M'],[979,558,'B']].forEach(function (n) {
    var col = n[2] === 'M' ? '#c00000' : '#16a35c';
    ell(c6x(n[0]), c6y(n[1]), 9, 8.5, 'rgba(255,255,255,0.2)', col, 1.4);
    txt(n[2], c6x(n[0]), c6y(n[1]), '13px ' + CAP, col);
});
ell(c6x(1232), c6y(392), 36, 36, 'rgba(0,0,0,0)', '#fbb614', 1.8);
ell(c6x(1232), c6y(392), 64, 64, 'rgba(0,0,0,0)', '#92d050', 1.6, [6, 5]);
txt('?', c6x(1268), c6y(388), 'bold 18px ' + CAP, '#7030a0');

// naive bayes
var nbNodes = [[373,830,'y','#7030a0'],[119,1085,'x1','#c00000'],[262,1088,'x2','#1a75bb'],[405,1088,'x3','#10a050'],[621,1088,'xn','#fbb614']];
nbNodes.forEach(function (n) {
    ell(c6x(n[0]), c6y(n[1]), 20, 18, 'rgba(255,255,255,0.05)', n[3], 1.6);
    txt(n[2], c6x(n[0]), c6y(n[1] - 4), '14px Liberation Serif', '#222');
});
var NB = '#8763b8';
[[373,885,130,1032],[373,885,268,1032],[373,885,405,1032],[373,885,615,1034]].forEach(function (e) {
    arrow(c6x(e[0]), c6y(e[1]), c6x(e[2]), c6y(e[3]), NB, 1.2, 8);
});
[[170,1087,215,1087],[312,1087,357,1087],[455,1088,487,1088],[535,1090,572,1090]].forEach(function (e) {
    arrow(c6x(e[0]), c6y(e[1]), c6x(e[2]), c6y(e[3]), '#7030a0', 1.2, 8);
});
txt('\u2026', c6x(512), c6y(1078), '14px Liberation Serif', '#222');
G.push({ type: 'bezierCurve', silent: true, z: -5, shape: { x1: c6x(120), y1: c6y(1140), cpx1: c6x(130), cpy1: c6y(1240), cpx2: c6x(340), cpy2: c6y(1220), x2: c6x(400), y2: c6y(1150) }, style: { stroke: NB, lineWidth: 1.2, fill: null } });
G.push({ type: 'bezierCurve', silent: true, z: -5, shape: { x1: c6x(120), y1: c6y(1140), cpx1: c6x(160), cpy1: c6y(1240), cpx2: c6x(540), cpy2: c6y(1210), x2: c6x(617), y2: c6y(1150) }, style: { stroke: NB, lineWidth: 1.2, fill: null } });
poly([[c6x(402),c6y(1145)],[c6x(386),c6y(1160)],[c6x(404),c6y(1172)]], '#7030a0');
poly([[c6x(620),c6y(1145)],[c6x(600),c6y(1156)],[c6x(615),c6y(1172)]], '#7030a0');

// svm
arrow(c6x(943), c6y(1192), c6x(943), c6y(826), '#111', 1.5, 3);
arrow(c6x(943), c6y(1192), c6x(1292), c6y(1192), '#111', 1.5, 3);
[[-6, 7], [6, 7]].forEach(function (o) { seg(c6x(943), c6y(826), c6x(943) + o[0], c6y(826) + o[1] + 2, '#111', 1.5); });
[[-7, -6], [-7, 6]].forEach(function (o) { seg(c6x(1292), c6y(1192), c6x(1292) + o[0], c6y(1192) + o[1], '#111', 1.5); });
seg(c6x(1140), c6y(825), c6x(1048), c6y(1192), '#5bbfe0', 1.2);
seg(c6x(1217), c6y(842), c6x(983), c6y(1188), '#3aa070', 1.2);
seg(c6x(1276), c6y(881), c6x(963), c6y(1071), '#f0cf50', 1.2);

capText('Decision Tree', c6x(252), c6y(686));
capText('Random Forest', c6x(761), c6y(682));
capText('K- Nearest Neighbor', c6x(1255), c6y(682));
capText('Naive Bayes', c6x(375), c6y(1270));
capText('Support Vector Machine', c6x(1110), c6y(1270));

// ---- evaluation charts ----
rect(945, 913, 393, 226, '#fff');
rect(1352, 913, 237, 224, '#fff');
rect(1603, 913, 223, 224, '#fff');
rect(1839, 913, 267, 223, '#fff');

var gBar = addGrid([958, 915.7, 356, 209.3],
    { type: 'category', data: barIds, name: 'Bar Chart', nameGap: 9, axisLine: { show: false }, axisTick: { length: 1, alignWithLabel: true }, axisLabel: { interval: 0, fontSize: 4.5, margin: 2, color: '#777' }, splitLine: { show: true, lineStyle: { color: '#f6f6f6', width: 0.5 } }, nameTextStyle: { fontSize: 6 } },
    ticks([0, 25, 50, 75], { min: -11.8, max: 92.8, name: 'Radscore_adjust', nameGap: 9, axisLine: { show: false }, axisTick: { length: 1 }, splitLine: { show: true, lineStyle: { color: '#fafafa', width: 0.8 } }, axisLabel: { fontSize: 5.5, margin: 2, rotate: 90 }, nameTextStyle: { fontSize: 6 } }));
grids[gBar].show = true; grids[gBar].backgroundColor = '#ebebeb'; grids[gBar].borderWidth = 0;
[0, 1].forEach(function (lv) {
    series.push({
        type: 'bar', name: String(lv), xAxisIndex: gBar, yAxisIndex: gBar, barWidth: 4.4, barGap: '-100%', animation: false, silent: true,
        itemStyle: { color: lv ? '#5cd0d5' : '#f8a19b' },
        data: barValues.map(function (v, i) { return barLevels[i] === lv ? v : null; })
    });
});
txt('Levels', 1328, 1013, '6.5px ' + SANS, '#333');

var gRoc = addGrid([1378, 914, 198, 196],
    ticks([1, 0.8, 0.6, 0.4, 0.2, 0], { inverse: true, min: -0.038, max: 1.044, name: 'Specificity', nameGap: 20, axisLabel: { formatter: fmt1, fontSize: 7.5, margin: 9 }, splitLine: { show: true, lineStyle: { color: '#b8f0b8' } }, nameTextStyle: { fontSize: 7.5 } }),
    ticks([0, 0.2, 0.4, 0.6, 0.8, 1], { min: -0.033, max: 1.04, name: 'Sensitivity', nameGap: 16, axisLabel: { rotate: 90, formatter: fmt1, fontSize: 7.5, margin: 4 }, splitLine: { show: true, lineStyle: { color: '#f6c0c0' } }, nameTextStyle: { fontSize: 7.5 } }), '#777');
line(gRoc, 'inner', [[1, 1], [0, 1]], '#888', 1, { areaStyle: { color: '#ededed', opacity: 1 } });
line(gRoc, 'roc', rocSpec.map(function (s, i) { return [s, rocSens[i]]; }), '#444', 1.4, { areaStyle: { color: '#d9d9d9', opacity: 1 } });
line(gRoc, 'frame', [[1, 0], [1, 1], [0, 1], [0, 0], [1, 0]], '#888', 1);
line(gRoc, 'diag', [[1.04, -0.04], [-0.038, 1.04]], '#999', 1);
note(gRoc, 0.79, 0.785, '0.597 (0.800, 0.806)', 'left', 7);
note(gRoc, 0.5, 0.485, 'AUC: 0.850', 'left', 7);

var gCal = addGrid([1631.7, 941.7, 176, 161.3],
    { min: 0, max: 100, interval: 25, offset: 6, name: 'Predicted event probability', nameGap: 17, axisLabel: { formatter: '{value} %', fontSize: 7, margin: 6 }, nameTextStyle: { fontSize: 7 } },
    { min: 0, max: 100, interval: 25, offset: 7, axisLabel: { formatter: '{value} %', fontSize: 7, margin: 6 } });
line(gCal, 'ideal', [[0, 0], [100, 100]], '#ccc', 1.2);
line(gCal, 'cal', calibX.map(function (x, i) { return [x, calibY[i]]; }), '#f06aa8', 1.6);
series.push({ type: 'scatter', xAxisIndex: gCal, yAxisIndex: gCal, clip: false, symbol: 'rect', symbolSize: [1, 3], itemStyle: { color: '#ffd0dd' }, animation: false, silent: true,
    data: rugTop.map(function (x) { return [x, 100]; }).concat(rugBottom.map(function (x) { return [x, 0]; })) });

var gDca = addGrid([1869.3, 935, 217.3, 160.7],
    { min: 0, max: 1, interval: 0.2, name: 'High Risk Threshold', nameGap: 15, axisLabel: { formatter: fmt1, fontSize: 7, margin: 4 }, splitLine: { show: true, lineStyle: { color: '#f2f2f2' } }, nameTextStyle: { fontSize: 7 } },
    ticks([0, 0.2, 0.4, 0.6, 0.8, 1], { min: -0.093, max: 1, name: 'Standardized Net Benefit', nameGap: 20, axisLine: { show: false }, axisTick: { show: false }, axisLabel: { rotate: 90, formatter: fmt1, fontSize: 7, margin: 10 }, splitLine: { show: true, lineStyle: { color: '#f2f2f2' } }, nameTextStyle: { fontSize: 6.5 } }));
line(gDca, 'All', dcaAll, '#e2e2e2', 1.4, { smooth: 0.3 });
line(gDca, 'None', [[0, 0], [0.985, 0]], '#bdbdbd', 1.8);
line(gDca, 'Radiomics Score', dcaX.map(function (x, i) { return [x, dcaY[i]]; }), '#ff5560', 1.5);
txt('Cost Benefit Ratio', 1978, 1131, '6.5px ' + SANS, '#333');

capText('Bar Chart:', 1154, 1160);
capText('Accuracy', 1156, 1185);
capText('ROC :', 1427, 1158);
capText('AUC, Specificity, Sensitivity', 1456, 1184);
capText('Calibration Curve:', 1709, 1160);
capText('Calibration Degree', 1712, 1185);
capText('Decision Curve:', 1953, 1160);
capText('Clinical Application', 1956, 1185);

// ---- stratified charts ----
rect(42, 912, 223, 228, '#fff');
rect(288, 912, 228, 225, '#fff');
rect(545, 913, 230, 228, '#fff');
var rocTicks = [1, 0.8, 0.6, 0.4, 0.2, 0], senTicks = [0, 0.2, 0.4, 0.6, 0.8, 1];
function stratGrid(r, xr, yr, xGap, gridLines) {
    var spl = gridLines ? function (c) { return { show: true, lineStyle: { color: c } }; } : function () { return { show: false }; };
    return addGrid(r,
        ticks(rocTicks, { inverse: true, min: xr[0], max: xr[1], name: 'Specificity', nameGap: xGap, axisLine: { show: false }, axisLabel: { formatter: fmt1, fontSize: 7, margin: 5 }, splitLine: spl('#c8f0c8'), nameTextStyle: { fontSize: 6.5 } }),
        ticks(senTicks, { min: yr[0], max: yr[1], name: 'Sensitivity', nameGap: 14, axisLine: { show: false }, axisLabel: { rotate: 90, formatter: fmt1, fontSize: 7, margin: 4 }, splitLine: spl('#f6c8c8'), nameTextStyle: { fontSize: 6.5 } }), '#888');
}
var gV = stratGrid([65.6, 922.7, 187.1, 194], [-0.042, 1.039], [-0.064, 1.064], 17);
line(gV, 'diagV', [[1.039, -0.05], [-0.042, 1.05]], '#e6e6e6', 1);
line(gV, 'ROC_GE', vendorGE, '#444', 1.4);
line(gV, 'ROC_Philips', vendorPhilips, '#ee5555', 1.4);
line(gV, 'ROC_Siemens', vendorSiemens, '#50e050', 1.4);
line(gV, 'ROC_Toshiba', vendorToshiba, '#5050f0', 1.6);
txt('ROC Curves of Radscore Based on Different Vendors', 159, 917, 'bold 5.8px ' + SANS, '#222');

var gT = stratGrid([311, 922.7, 192, 194], [-0.041, 1.044], [-0.057, 1.042], 14);
line(gT, 'diagT', [[1.044, -0.05], [-0.041, 1.04]], '#e6e6e6', 1);
line(gT, 'ROC_Slice 1mm', slice1, '#444', 1.4);
line(gT, 'ROC_Slice 2mm', slice2, '#ff6060', 1.6);
line(gT, 'ROC_Slice 3mm', slice3, '#50e050', 1.4);
line(gT, 'ROC_Slice 5mm', slice5, '#5050f0', 1.4);
txt('ROC Curves of Radscore Based on Different Slice thickness', 408, 917, 'bold 5.8px ' + SANS, '#222');

var gR = stratGrid([568, 924, 194, 194], [-0.04, 1.038], [-0.039, 1.041], 17, true);
line(gR, 'diagR', [[1.038, -0.04], [-0.04, 1.04]], '#999', 1);
line(gR, 'ROC_Reader', readerRoc, '#444', 1.4);
note(gR, 0.92, 0.855, '0.597 (0.926, 0.870)', 'left', 6.5);
note(gR, 0.51, 0.49, 'AUC: 0.957', 'left', 6.5);
txt('The ROC of Radiomics model based on Another Reader', 665, 919, 'bold 5.8px ' + SANS, '#222');

function miniLegend(x, y, w, h, names, aucs, colors, textX) {
    rect(x, y, w, h, '#fff', '#999', 0.8, 40);
    names.forEach(function (n, i) {
        var ly = y + 3.5 + i * 4.2;
        seg(x + 3, ly, x + 7, ly, colors[i], 1.2, null, 41);
        txt(n, x + 10, ly, '3.5px ' + SANS, '#333', 'left');
        txt(aucs[i], textX, ly, '3.5px ' + SANS, '#333', 'left');
    });
}
var curveColors = ['#111', '#ee3333', '#33dd33', '#3333ee'];
miniLegend(141, 1089, 108, 19, ['ROC_GE', 'ROC_Philips', 'ROC_Siemens', 'ROC_Toshiba'],
    ['AUC:0.891,95% CI:0.759-1.000', 'AUC:0.882,95% CI:0.808-0.955', 'AUC:0.901,95% CI:0.823-0.953', 'AUC:0.925,95% CI:0.869-0.983'], curveColors, 186);
miniLegend(390, 1089, 110, 20, ['ROC_Slice 1mm', 'ROC_Slice 2mm', 'ROC_Slice 3mm', 'ROC_Slice 5mm'],
    ['AUC:0.956,95% CI:0.823-1.000', 'AUC:1.000,95% CI:1.000-1.000', 'AUC:0.889,95% CI:0.815-0.962', 'AUC:0.881,95% CI:0.826-0.955'], curveColors, 437);

capText('Different CT Vendors', 154, 1174);
capText('Different Slice Thickness', 399, 1175);
capText('Different Readers', 669, 1177);

// ---- chart ----
var myChart = echarts.init(document.getElementById('main'));
myChart.setOption({
    backgroundColor: '#b8cde2',
    animation: false,
    grid: grids,
    xAxis: xAxes,
    yAxis: yAxes,
    visualMap: visualMaps,
    series: series,
    legend: [
        { data: ['0', '1'], orient: 'vertical', left: 1320, top: 1017, itemWidth: 6, itemHeight: 6, itemGap: 1, padding: 0, textStyle: { fontSize: 6, color: '#333', fontFamily: SANS } },
        { data: ['Radiomics Score', 'All', 'None'], orient: 'vertical', left: 2043, top: 929, itemWidth: 8, itemHeight: 3, itemGap: 1, padding: [2, 2, 2, 3], borderColor: '#888', borderWidth: 1, backgroundColor: '#fff', textStyle: { fontSize: 5.5, color: '#333', fontFamily: SANS } }
    ],
    graphic: { elements: G }
});
</script>
</body>
</html>
